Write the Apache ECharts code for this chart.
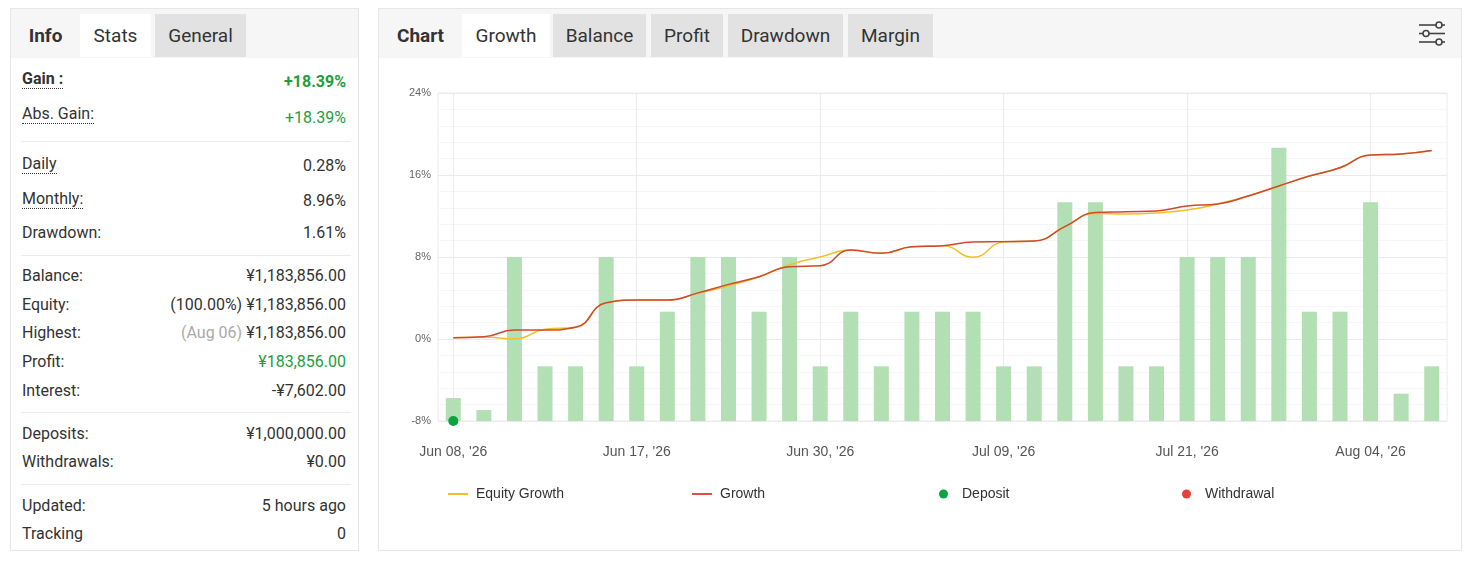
<!DOCTYPE html>
<html>
<head>
<meta charset="utf-8">
<title>Growth</title>
<script src="https://cdn.jsdelivr.net/npm/echarts@6/dist/echarts.min.js"></script>
<style>
    body { margin: 0; width: 1470px; height: 563px; background: #fff; font-family: Roboto, "Noto Sans", sans-serif; color: #333; position: relative; overflow: hidden; }
    .panel { position: absolute; top: 8px; height: 543px; border: 1px solid #e6e6e6; box-sizing: border-box; }
    .head { position: absolute; left: 0; right: 0; top: 0; height: 49px; background: #f6f6f6; }
    .tab { position: absolute; top: 5px; height: 43px; line-height: 43px; font-size: 19px; text-align: center; color: #333; }
    .tab.on { background: #fff; }
    .tab.off { background: #e2e2e2; }
    .tab.bold { font-weight: bold; }
    .row { position: absolute; left: 22px; width: 324px; height: 22px; line-height: 22px; font-size: 16px; }
    .row .l { position: absolute; left: 0; top: 0; }
    .row .l.dot { top: 3px; }
    .row .v { position: absolute; right: 0; top: 0; }
    .dot { border-bottom: 1px dotted #333; line-height: 18px; display: inline-block; }
    .green { color: #1e9e3e; }
    .muted { color: #aaa; }
    .div { position: absolute; left: 21px; width: 330px; height: 1px; background: #ebebeb; }
    #main { position: absolute; left: 379px; top: 58px; width: 1081px; height: 493px; }
</style>
</head>
<body>

<div class="panel" style="left:10px; width:349px;">
    <div class="head">
        <div class="tab bold" style="left:0; width:69px;">Info</div>
        <div class="tab on" style="left:69px; width:71px;">Stats</div>
        <div class="tab off" style="left:144px; width:91px;">General</div>
    </div>
</div>

<div class="row" style="top:67px;"><span class="l dot" style="font-weight:bold;">Gain :</span><span class="v green" style="top:4px; font-weight:bold;">+18.39%</span></div>
<div class="row" style="top:102px;"><span class="l dot">Abs. Gain:</span><span class="v green" style="top:5px;">+18.39%</span></div>
<div class="div" style="top:141px;"></div>
<div class="row" style="top:152px;"><span class="l dot">Daily</span><span class="v" style="top:3px;">0.28%</span></div>
<div class="row" style="top:187px;"><span class="l dot">Monthly:</span><span class="v" style="top:3px;">8.96%</span></div>
<div class="row" style="top:222px;"><span class="l">Drawdown:</span><span class="v">1.61%</span></div>
<div class="div" style="top:255px;"></div>
<div class="row" style="top:265px;"><span class="l">Balance:</span><span class="v">¥1,183,856.00</span></div>
<div class="row" style="top:294px;"><span class="l">Equity:</span><span class="v">(100.00%) ¥1,183,856.00</span></div>
<div class="row" style="top:322px;"><span class="l">Highest:</span><span class="v"><span class="muted">(Aug 06)</span> ¥1,183,856.00</span></div>
<div class="row" style="top:351px;"><span class="l">Profit:</span><span class="v green">¥183,856.00</span></div>
<div class="row" style="top:380px;"><span class="l">Interest:</span><span class="v">-¥7,602.00</span></div>
<div class="div" style="top:412px;"></div>
<div class="row" style="top:423px;"><span class="l">Deposits:</span><span class="v">¥1,000,000.00</span></div>
<div class="row" style="top:451px;"><span class="l">Withdrawals:</span><span class="v">¥0.00</span></div>
<div class="div" style="top:484px;"></div>
<div class="row" style="top:495px;"><span class="l">Updated:</span><span class="v">5 hours ago</span></div>
<div class="row" style="top:523px;"><span class="l">Tracking</span><span class="v">0</span></div>

<div class="panel" style="left:378px; width:1084px;">
    <div class="head">
        <div class="tab bold" style="left:0; width:83px;">Chart</div>
        <div class="tab on" style="left:83px; width:88px;">Growth</div>
        <div class="tab off" style="left:174px; width:93px;">Balance</div>
        <div class="tab off" style="left:272px; width:72px;">Profit</div>
        <div class="tab off" style="left:349px; width:115px;">Drawdown</div>
        <div class="tab off" style="left:469px; width:85px;">Margin</div>
        <svg style="position:absolute; left:1039px; top:11px;" width="28" height="27" viewBox="0 0 28 27">
            <g stroke="#444" stroke-width="1.6" fill="none">
                <line x1="1" y1="5" x2="18" y2="5"/><line x1="24" y1="5" x2="27" y2="5"/><circle cx="21" cy="5" r="3"/>
                <line x1="1" y1="13.5" x2="5" y2="13.5"/><line x1="11" y1="13.5" x2="27" y2="13.5"/><circle cx="8" cy="13.5" r="3"/>
                <line x1="1" y1="22" x2="18" y2="22"/><line x1="24" y1="22" x2="27" y2="22"/><circle cx="21" cy="22" r="3"/>
            </g>
        </svg>
    </div>
</div>

<div id="main"></div>

<script type="text/javascript">
    // trading days on the x axis
    var dates = [
        "Jun 08, '26", "Jun 09, '26", "Jun 10, '26", "Jun 11, '26", "Jun 12, '26", "Jun 15, '26",
        "Jun 17, '26", "Jun 18, '26", "Jun 19, '26", "Jun 22, '26", "Jun 23, '26", "Jun 25, '26",
        "Jun 30, '26", "Jul 01, '26", "Jul 02, '26", "Jul 03, '26", "Jul 06, '26", "Jul 07, '26",
        "Jul 09, '26", "Jul 10, '26", "Jul 13, '26", "Jul 14, '26", "Jul 15, '26", "Jul 17, '26",
        "Jul 21, '26", "Jul 22, '26", "Jul 24, '26", "Jul 27, '26", "Jul 29, '26", "Jul 31, '26",
        "Aug 04, '26", "Aug 05, '26", "Aug 06, '26"
    ];

    // growth in %
    var growth = [
        0.13, 0.22, 0.88, 0.88, 1.14, 3.54, 3.80, 3.80, 4.50, 5.33, 6.08, 7.06,
        7.15, 8.68, 8.36, 9.00, 9.10, 9.46, 9.50, 9.56, 10.96, 12.33, 12.42, 12.49,
        12.98, 13.17, 13.95, 14.93, 15.90, 16.70, 17.95, 18.05, 18.39
    ];

    var equityGrowth = [
        0.13, 0.20, 0.00, 0.95, 1.14, 3.54, 3.80, 3.80, 4.45, 5.20, 6.08, 7.25,
        8.00, 8.68, 8.36, 9.00, 9.10, 7.97, 9.46, 9.56, 10.96, 12.25, 12.20, 12.30,
        12.58, 13.17, 13.95, 14.93, 15.90, 16.70, 17.95, 18.05, 18.39
    ];

    // daily bars (own hidden scale)
    var barValues = [
        0.42, 0.2, 3, 1, 1, 3, 1, 2, 3, 3, 2, 3,
        1, 2, 1, 2, 2, 2, 1, 1, 4, 4, 1, 1,
        3, 3, 3, 5, 2, 2, 4, 0.5, 1
    ];

    var depositIdx = [0];
    var withdrawalIdx = [];

    var yMin = -8, yMax = 24, yStep = 8;

    var myChart = echarts.init(document.getElementById('main'));

    var font = 'Arial, "Liberation Sans", sans-serif';

    function legendAt(name, left, icon, size, pad) {
        return {
            data: [name],
            left: left,
            top: 429,
            padding: 0,
            icon: icon,
            itemWidth: size[0],
            itemHeight: size[1],
            selectedMode: false,
            textStyle: { color: '#333', fontSize: 14, fontFamily: font, padding: [0, 0, 0, pad] }
        };
    }

    var option = {
        animation: false,
        grid: {
            left: 59, right: 13, top: 35, bottom: 130,
            show: true, borderColor: '#ececec', borderWidth: 1
        },
        legend: [
            legendAt('Equity Growth', 69, 'rect', [20, 2], 3),
            legendAt('Growth', 313, 'rect', [20, 2], 3),
            legendAt('Deposit', 560, 'circle', [9, 9], 9),
            legendAt('Withdrawal', 803, 'circle', [9, 9], 9)
        ],
        xAxis: {
            type: 'category',
            data: dates,
            boundaryGap: true,
            axisLine: { show: false },
            axisTick: { show: false },
            axisLabel: { interval: 5, color: '#555', fontSize: 14, fontFamily: font, margin: 24 },
            splitLine: { show: true, interval: 5, alignWithLabel: true, lineStyle: { color: '#ebebeb' } }
        },
        yAxis: [
            {
                type: 'value',
                min: yMin, max: yMax, interval: yStep,
                axisLine: { show: false },
                axisTick: { show: false },
                axisLabel: { formatter: '{value}%', color: '#666', fontSize: 11, fontFamily: font, margin: 7 },
                splitLine: { lineStyle: { color: '#ebebeb' } },
                minorTick: { show: false, splitNumber: 5 },
                minorSplitLine: { show: true, lineStyle: { color: '#f6f6f6' } }
            },
            {
                type: 'value', min: 0, max: 6, show: false,
                splitLine: { show: false }
            }
        ],
        series: [
            {
                name: 'Daily',
                type: 'bar',
                yAxisIndex: 1,
                data: barValues,
                barWidth: 15,
                itemStyle: { color: '#b3dfb4' },
                z: 1
            },
            {
                name: 'Equity Growth',
                type: 'line',
                data: equityGrowth,
                smooth: 0.5,
                showSymbol: false,
                lineStyle: { color: '#f0c02c', width: 1.5 },
                itemStyle: { color: '#f0c02c' },
                z: 3
            },
            {
                name: 'Growth',
                type: 'line',
                data: growth,
                smooth: 0.5,
                showSymbol: false,
                lineStyle: { color: '#cf4a2c', width: 1.5 },
                itemStyle: { color: '#d9534f' },
                z: 4
            },
            {
                name: 'Deposit',
                type: 'scatter',
                data: depositIdx.map(function (i) { return [dates[i], yMin]; }),
                symbolSize: 10,
                itemStyle: { color: '#0aa33d', opacity: 1 },
                z: 5
            },
            {
                name: 'Withdrawal',
                type: 'scatter',
                data: withdrawalIdx.map(function (i) { return [dates[i], yMin]; }),
                symbolSize: 10,
                itemStyle: { color: '#e5413a', opacity: 1 },
                z: 5
            }
        ]
    };

    myChart.setOption(option);
</script>
</body>
</html>
